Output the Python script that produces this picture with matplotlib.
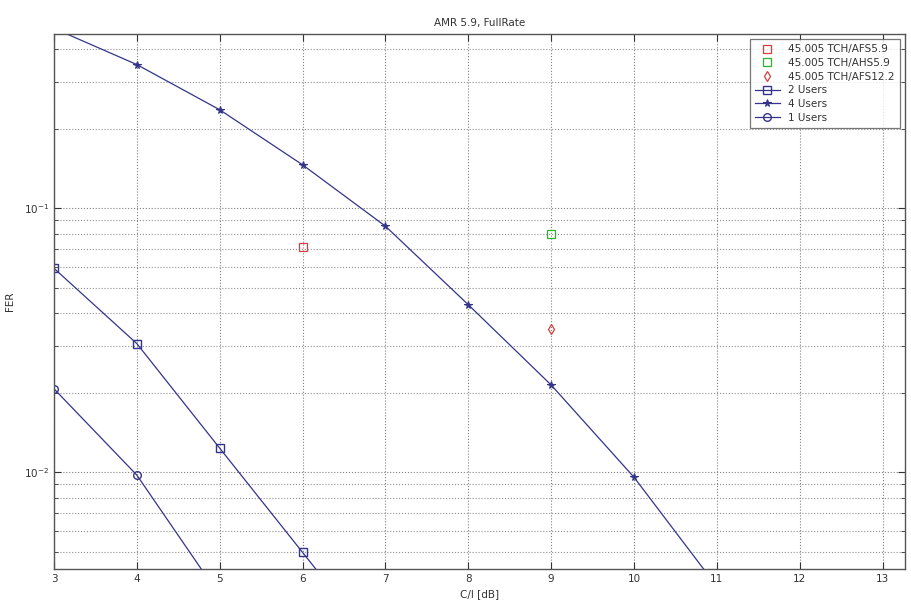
import matplotlib
matplotlib.use("Agg")
import matplotlib.pyplot as plt
from matplotlib.ticker import LogLocator, NullFormatter, FixedLocator

# Data
ci = [3, 4, 5, 6, 7, 8, 9, 10, 11]
fer_4users = [0.48, 0.350, 0.236, 0.146, 0.0855, 0.0431, 0.0214, 0.00957, 0.00369]
ci_2 = [3, 4, 5, 6, 7]
fer_2users = [0.0592, 0.0307, 0.01233, 0.00497, 0.0020]
ci_1 = [3, 4, 5]
fer_1users = [0.0207, 0.00975, 0.0034]
ref_afs59 = ([6], [0.0711])
ref_ahs59 = ([9], [0.0796])
ref_afs122 = ([9], [0.035])

line_color = "#34348a"

fig = plt.figure(figsize=(9.12, 6.07), dpi=100)
ax = fig.add_axes([54/912, 1 - 569/607, (905-54)/912, (569-34)/607])

ax.plot(*ref_afs59, linestyle="none", marker="s", mfc="none", mec="#d04040", ms=5.5, mew=0.9,
        label="45.005 TCH/AFS5.9")
ax.plot(*ref_ahs59, linestyle="none", marker="s", mfc="none", mec="#30b030", ms=5.5, mew=0.9,
        label="45.005 TCH/AHS5.9")
ax.plot(*ref_afs122, linestyle="none", marker="d", mfc="none", mec="#d04040", ms=5.5, mew=0.9,
        label="45.005 TCH/AFS12.2")
ax.plot(ci_2, fer_2users, color=line_color, lw=0.9, marker="s", mfc="none", mec=line_color,
        ms=5.5, mew=1.0, label="2 Users")
ax.plot(ci, fer_4users, color=line_color, lw=0.9, marker="*", mfc=line_color, mec=line_color,
        ms=5.5, mew=0.8, label="4 Users")
ax.plot(ci_1, fer_1users, color=line_color, lw=0.9, marker="o", mfc="none", mec=line_color,
        ms=5.5, mew=1.0, label="1 Users")

ax.set_yscale("log")
ax.set_xlim(3, 13.27)
ax.set_ylim(4.3e-3, 0.457)
ax.xaxis.set_major_locator(FixedLocator(list(range(3, 14))))
ax.yaxis.set_major_locator(FixedLocator([1e-2, 1e-1]))
ax.yaxis.set_minor_locator(LogLocator(base=10, subs=range(2, 10)))
ax.yaxis.set_minor_formatter(NullFormatter())

ax.grid(True, which="major", linestyle=":", color="#808080", lw=0.8)
ax.grid(True, which="minor", axis="y", linestyle=":", color="#909090", lw=0.8)

ax.tick_params(which="both", direction="in", top=True, right=True, labelsize=7.5, colors="#333333")
ax.tick_params(which="major", length=5)
ax.tick_params(which="minor", length=3)
for sp in ax.spines.values():
    sp.set_color("#555555")
    sp.set_linewidth(1.0)

ax.set_title("AMR 5.9, FullRate", fontsize=7.5, color="#333333", pad=6)
ax.set_xlabel("C/I [dB]", fontsize=7.5, color="#333333", labelpad=4)
ax.set_ylabel("FER", fontsize=7.5, color="#333333", labelpad=6)

leg = ax.legend(loc="upper right", fontsize=7.5, frameon=True, fancybox=False,
                edgecolor="#555555", borderaxespad=0.5, handlelength=2.4,
                labelspacing=0.35, borderpad=0.5)
leg.get_frame().set_linewidth(0.9)
for t in leg.get_texts():
    t.set_color("#333333")

fig.savefig("out.png", dpi=100)
